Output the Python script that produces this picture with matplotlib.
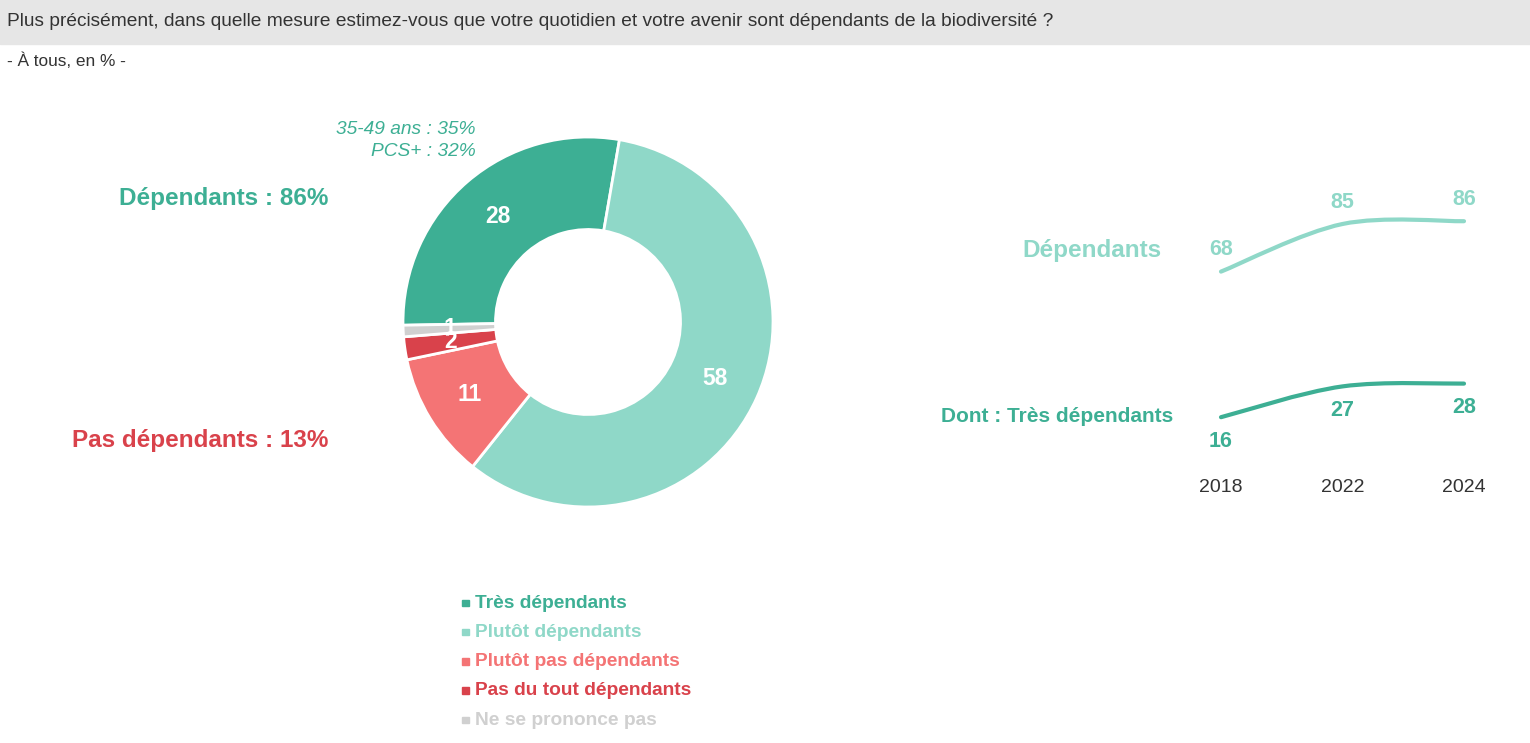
import matplotlib.pyplot as plt
from matplotlib.path import Path
from matplotlib.patches import PathPatch, Rectangle
import numpy as np

plt.rcParams['font.family'] = ['Liberation Sans', 'DejaVu Sans']

W, H = 1530, 743

# donut data
categories = ['Très dépendants', 'Plutôt dépendants', 'Plutôt pas dépendants',
              'Pas du tout dépendants', 'Ne se prononce pas']
values = [28, 58, 11, 2, 1]
colors = ['#3daf94', '#8fd8c8', '#f47475', '#d9424b', '#d0d0d0']

# trend data
years = ['2018', '2022', '2024']
dependants = [68, 85, 86]
tres_dependants = [16, 27, 28]

light = '#8fd8c8'
dark = '#3daf94'
red = '#d9424b'


def px(x, y):
    return x / W, 1 - y / H


def smooth_path(ys):
    # cubic bezier through the points (catmull-rom style, 1/6 factor)
    pts = np.array([[i, v] for i, v in enumerate(ys)], dtype=float)
    n = len(pts)
    verts = [pts[0]]
    codes = [Path.MOVETO]
    for i in range(n - 1):
        p0 = pts[max(i - 1, 0)]
        p1 = pts[i]
        p2 = pts[i + 1]
        p3 = pts[min(i + 2, n - 1)]
        c1 = p1 + (p2 - p0) / 6
        c2 = p2 - (p3 - p1) / 6
        verts += [c1, c2, p2]
        codes += [Path.CURVE4] * 3
    return Path(verts, codes)


fig = plt.figure(figsize=(W / 100, H / 100), dpi=100)

# header band
fig.add_artist(Rectangle((0, 1 - 44 / H), 1, 44 / H, transform=fig.transFigure,
                         color='#e6e6e6', zorder=0))
fig.text(*px(7, 21), "Plus précisément, dans quelle mesure estimez-vous que votre quotidien et votre avenir sont dépendants de la biodiversité ?",
         fontsize=13.8, color='#333333', va='center', ha='left')
fig.text(*px(7, 61), "- À tous, en % -", fontsize=12.4, color='#333333', va='center', ha='left')

# donut
cx, cy, r = 588, 322, 185
ax = fig.add_axes([(cx - r) / W, (H - cy - r) / H, 2 * r / W, 2 * r / H])
wedges, _ = ax.pie(values, colors=colors, startangle=181, counterclock=False,
                   radius=1, wedgeprops=dict(width=0.5, edgecolor='white', linewidth=2))
ax.set_xlim(-1, 1)
ax.set_ylim(-1, 1)
ax.set_aspect('equal')
ax.axis('off')
for w, v in zip(wedges, values):
    ang = np.deg2rad((w.theta1 + w.theta2) / 2)
    ax.text(0.75 * np.cos(ang), 0.75 * np.sin(ang), str(v), color='white',
            fontsize=16.5, fontweight='bold', ha='center', va='center')

fig.text(*px(328, 198), "Dépendants : 86%", color=dark, fontsize=17.5,
         fontweight='bold', ha='right', va='center')
fig.text(*px(476, 130), "35-49 ans : 35%", color=dark, fontsize=13.8,
         style='italic', ha='right', va='center')
fig.text(*px(476, 152), "PCS+ : 32%", color=dark, fontsize=13.8,
         style='italic', ha='right', va='center')
fig.text(*px(328, 440), "Pas dépendants : 13%", color=red, fontsize=17.5,
         fontweight='bold', ha='right', va='center')

# legend
for i, (c, col) in enumerate(zip(categories, colors)):
    y = 603 + i * 29.3
    fig.add_artist(Rectangle(px(462, y + 3), 6.5 / W, 6.5 / H, transform=fig.transFigure,
                             color=col))
    fig.text(*px(475, y), c, color=col, fontsize=13.8, fontweight='bold',
             ha='left', va='center')

# trend lines
x0, x2 = 1221, 1464
unit = (x2 - x0) / 2
left = x0 - 0.5 * unit
ax2 = fig.add_axes([left / W, (H - 462) / H, 3 * unit / W, 280 / H])
ax2.set_xlim(-0.5, 2.5)
ax2.set_ylim(0, 100)
for ys, col, off in [(dependants, light, 22), (tres_dependants, dark, -24)]:
    ax2.add_patch(PathPatch(smooth_path(ys), facecolor='none', edgecolor=col,
                            linewidth=3, capstyle='round'))
    for i, v in enumerate(ys):
        ax2.annotate(str(v), (i, v), xytext=(0, off * 0.72), textcoords='offset points',
                     ha='center', va='center', color=col, fontsize=15.5,
                     fontweight='bold')
ax2.set_xticks(range(len(years)))
ax2.set_xticklabels(years, fontsize=14, color='#333333')
ax2.tick_params(length=0, pad=12)
ax2.set_yticks([])
for s in ax2.spines.values():
    s.set_visible(False)
ax2.patch.set_alpha(0)

fig.text(*px(1161, 250), "Dépendants", color=light, fontsize=17.5,
         fontweight='bold', ha='right', va='center')
fig.text(*px(1173, 417), "Dont : Très dépendants", color=dark, fontsize=15,
         fontweight='bold', ha='right', va='center')

fig.savefig('out.png', dpi=100)
